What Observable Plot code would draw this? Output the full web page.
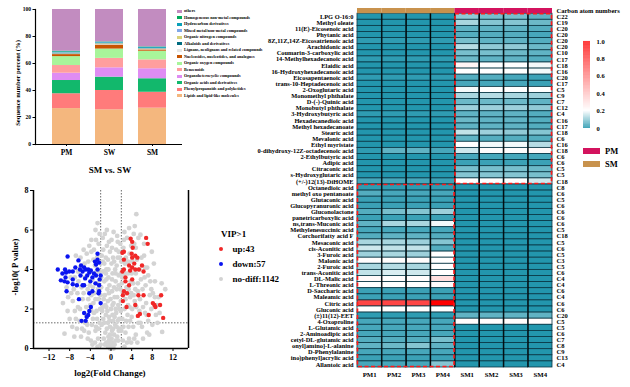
<!DOCTYPE html>
<html><head><meta charset="utf-8">
<script src="https://cdn.jsdelivr.net/npm/d3@7"></script>
<script src="https://cdn.jsdelivr.net/npm/@observablehq/plot@0.6"></script>
<style>
body{margin:0;background:#fff;}
#root{position:relative;width:630px;height:387px;overflow:hidden;background:#fff;font-family:"Liberation Serif",serif;font-weight:bold;color:#000;}
.t{position:absolute;white-space:nowrap;line-height:1;}
svg{position:absolute;}
</style></head><body><div id="root"></div>
<script>
// ---------- Stacked bar chart data (bottom -> top) ----------
const barSamples = ["PM", "SW", "SM"];
const barClasses = ["Lipids and lipid-like molecules", "Phenylpropanoids and polyketides", "Organic acids and derivatives",
  "Organoheterocyclic compounds", "Benzenoids", "Organic oxygen compounds", "Nucleosides, nucleotides, and analogues",
  "Lignans, neolignans and related compounds", "Alkaloids and derivatives", "Organic nitrogen compounds",
  "Mixed metal/non-metal compounds", "Hydrocarbon derivatives", "Homogeneous non-metal compounds", "others"];
const barColors = ["#f4b77e", "#ff7b7b", "#12b86c", "#df8cf3", "#ff9e9e", "#a8f59a", "#c85400",
  "#e6e6e6", "#006b80", "#d8d27a", "#80a8e8", "#0aa0b8", "#00a85a", "#c28cc0"];
const pmPercent = [26.6, 11.0, 9.8, 5.4, 5.7, 6.6, 1.5, 0.4, 0.3, 0.3, 0.3, 0.7, 0.5, 30.9];
const swPercent = [25.7, 14.3, 9.9, 6.9, 7.0, 6.9, 3.0, 0.5, 0.3, 0.3, 0.3, 0.6, 0.3, 24.0];
const smPercent = [26.9, 11.8, 10.0, 7.4, 6.6, 6.4, 1.0, 0.4, 0.3, 0.2, 0.2, 0.8, 0.3, 27.7];

// ---------- Heatmap data ----------
const heatSamples = ["PM1", "PM2", "PM3", "PM4", "SM1", "SM2", "SM3", "SM4"];
const compounds = ["LPG O-16:0", "Methyl oleate", "11(E)-Eicosenoic acid", "Phytanic acid", "8Z,11Z,14Z-Eicosatrienoic acid",
  "Arachidonic acid", "Coumarin-3-carboxylic acid", "14-Methylhexadecanoic acid", "Elaidic acid", "16-Hydroxyhexadecanoic acid",
  "Eicosapentaenoic acid", "trans-10-Heptadecenoic acid", "2-Oxoglutaric acid", "Monomethyl phthalate", "D-(-)-Quinic acid",
  "Monobutyl phthalate", "3-Hydroxybutyric acid", "Hexadecanedioic acid", "Methyl hexadecanoate", "Stearic acid",
  "Mevalonic acid", "Ethyl myristate", "0-dihydroxy-12Z-octadecenoic acid", "2-Ethylbutyric acid", "Adipic acid",
  "Citraconic acid", "s-Hydroxyglutaric acid", "(+/-)12(13)-DiHOME",
  "Octanedioic acid", "methyl oxo pentanoate", "Glutaconic acid", "Glucopyranuronic acid", "Gluconolactone",
  "panetricarboxylic acid", "ns,trans-Muconic acid", "Methylenesuccinic acid", "Corchorifatty acid F", "Mesaconic acid",
  "cis-Aconitic acid", "3-Furoic acid", "Malonic acid", "2-Furoic acid", "trans-Aconitic acid", "DL-Malic acid",
  "L-Threonic acid", "D-Saccharic acid", "Maleamic acid", "Citric acid", "Gluconic acid", "(±)11(12)-EET",
  "4-Oxoproline", "L-Glutamic acid", "2-Aminoadipic acid", "cetyl-DL-glutamic acid", "onyl]amino]-L-alanine",
  "D-Phenylalanine", "ino)phenyl]acrylic acid", "Allantoic acid"];
const carbonNumbers = ["C22", "C19", "C20", "C20", "C20", "C20", "C10", "C17", "C18", "C16", "C20", "C17", "C5", "C9",
  "C7", "C12", "C4", "C16", "C17", "C18", "C6", "C16", "C18", "C6", "C6", "C5", "C5", "C18",
  "C8", "C6", "C5", "C6", "C6", "C6", "C6", "C5", "C18", "C5", "C6", "C5", "C3", "C5", "C6", "C4", "C4", "C6", "C4",
  "C6", "C6", "C20", "C5", "C5", "C6", "C7", "C8", "C9", "C13", "C4"];
const topGroupSize = 28;
const heatPM = [
  [0.02,0.02,0.02,0.02],[0.02,0.02,0.02,0.02],[0.02,0.02,0.02,0.02],[0.02,0.02,0.02,0.02],[0.03,0.03,0.03,0.03],
  [0.02,0.02,0.02,0.02],[0.02,0.02,0.02,0.02],[0.03,0.03,0.03,0.03],[0.02,0.02,0.02,0.02],[0.02,0.02,0.02,0.02],
  [0.03,0.03,0.03,0.03],[0.02,0.02,0.02,0.02],[0.02,0.02,0.02,0.02],[0.02,0.02,0.02,0.02],[0.02,0.02,0.02,0.02],
  [0.02,0.02,0.02,0.02],[0.03,0.03,0.03,0.03],[0.02,0.02,0.02,0.02],[0.02,0.02,0.02,0.02],[0.02,0.02,0.02,0.02],
  [0.02,0.02,0.02,0.02],[0.02,0.02,0.02,0.02],[0.03,0.07,0.07,0.05],[0.02,0.02,0.02,0.02],[0.02,0.02,0.02,0.02],
  [0.02,0.02,0.02,0.02],[0.02,0.02,0.02,0.02],[0.05,0.05,0.05,0.04],
  [0.03,0.03,0.03,0.03],[0.06,0.05,0.05,0.05],[0.04,0.04,0.04,0.04],[0.04,0.04,0.04,0.04],[0.06,0.09,0.10,0.12],
  [0.04,0.04,0.04,0.04],[0.07,0.13,0.13,0.19],[0.05,0.05,0.05,0.05],[0.06,0.07,0.07,0.06],[0.13,0.13,0.12,0.10],
  [0.16,0.15,0.15,0.06],[0.12,0.13,0.12,0.20],[0.21,0.21,0.21,0.20],[0.13,0.14,0.13,0.20],[0.15,0.17,0.16,0.20],
  [0.22,0.21,0.21,0.30],[0.20,0.20,0.20,0.21],[0.04,0.04,0.04,0.04],[0.04,0.04,0.04,0.04],[0.78,0.78,0.78,1.00],
  [0.20,0.20,0.20,0.20],[0.03,0.03,0.03,0.03],[0.05,0.05,0.05,0.05],[0.05,0.05,0.05,0.05],[0.05,0.05,0.05,0.05],
  [0.06,0.06,0.06,0.09],[0.07,0.08,0.10,0.07],[0.05,0.05,0.05,0.05],[0.04,0.04,0.04,0.04],[0.05,0.05,0.05,0.10]];
const heatSM = [
  [0.11,0.09,0.09,0.07],[0.13,0.10,0.10,0.08],[0.07,0.07,0.07,0.06],[0.06,0.06,0.06,0.05],[0.09,0.07,0.07,0.06],
  [0.14,0.11,0.11,0.08],[0.09,0.09,0.08,0.07],[0.08,0.07,0.07,0.06],[0.23,0.20,0.20,0.19],[0.20,0.20,0.20,0.19],
  [0.06,0.06,0.05,0.04],[0.05,0.05,0.05,0.04],[0.19,0.20,0.20,0.20],[0.13,0.14,0.13,0.12],[0.08,0.08,0.08,0.07],
  [0.12,0.12,0.12,0.11],[0.07,0.07,0.07,0.06],[0.08,0.07,0.07,0.06],[0.07,0.07,0.07,0.06],[0.15,0.12,0.11,0.10],
  [0.07,0.06,0.06,0.06],[0.20,0.19,0.19,0.14],[0.16,0.21,0.21,0.22],[0.05,0.05,0.05,0.05],[0.04,0.04,0.04,0.04],
  [0.09,0.09,0.09,0.08],[0.10,0.10,0.10,0.09],[0.20,0.20,0.20,0.16],
  [0.02,0.02,0.02,0.02],[0.02,0.02,0.02,0.02],[0.02,0.02,0.02,0.02],[0.02,0.02,0.02,0.02],[0.02,0.02,0.02,0.02],
  [0.02,0.02,0.02,0.02],[0.02,0.02,0.02,0.02],[0.02,0.02,0.02,0.02],[0.02,0.02,0.02,0.02],[0.02,0.02,0.02,0.02],
  [0.02,0.02,0.02,0.02],[0.02,0.02,0.02,0.02],[0.02,0.02,0.02,0.02],[0.02,0.02,0.02,0.02],[0.02,0.02,0.02,0.02],
  [0.02,0.02,0.02,0.02],[0.02,0.02,0.02,0.02],[0.02,0.02,0.02,0.02],[0.02,0.02,0.02,0.02],[0.02,0.02,0.02,0.02],
  [0.02,0.02,0.02,0.02],[0.07,0.07,0.07,0.07],[0.21,0.21,0.21,0.21],[0.02,0.02,0.02,0.02],[0.02,0.02,0.02,0.02],
  [0.02,0.02,0.02,0.02],[0.02,0.02,0.02,0.02],[0.02,0.02,0.02,0.02],[0.02,0.02,0.02,0.02],[0.02,0.02,0.02,0.02]];
const colorTicks = [0, 0.2, 0.4, 0.6, 0.8, 1.0];

// ---------- Volcano data [log2FC, -log10 P] ----------
const upPoints = [[3.8,5.56],[4.1,5.4],[4.2,5.1],[4.0,4.8],[4.1,4.6],[2.5,4.9],[2.5,4.5],[4.7,4.7],[5.1,4.6],[6.8,5.6],
  [7.1,5.3],[3.5,4.2],[4.1,4.1],[4.7,4.0],[6.0,4.2],[6.3,3.9],[2.5,4.0],[2.2,3.9],[3.7,3.95],[5.4,4.0],[2.8,3.6],
  [4.1,3.5],[2.8,3.4],[2.5,2.9],[3.5,3.2],[2.3,2.7],[3.1,2.8],[5.3,2.7],[6.3,2.7],[2.3,2.4],[3.0,2.1],[8.1,2.3],
  [8.4,2.2],[8.6,2.1],[9.7,2.7],[9.5,2.2],[7.3,1.7],[5.2,1.65],[5.6,1.75],[10.1,1.55],[4.7,2.2],[2.2,4.85],[4.5,4.3]];
const downPoints = [[-10.3,4.0],[-8.4,4.66],[-6.3,4.46],[-8.9,4.0],[-8.7,3.85],[-9.0,3.4],[-8.8,3.6],[-8.4,3.35],
  [-9.7,3.45],[-9.4,3.8],[-7.4,3.9],[-7.4,3.5],[-7.4,3.25],[-5.8,4.2],[-5.2,4.1],[-4.9,4.0],[-5.5,3.9],[-4.4,4.0],
  [-4.2,3.85],[-3.9,3.95],[-2.6,4.8],[-2.6,4.5],[-2.9,4.25],[-2.3,4.35],[-2.6,4.0],[-2.9,3.7],[-2.0,3.7],[-5.5,3.2],
  [-5.2,3.2],[-6.2,2.5],[-4.2,2.8],[-3.6,2.9],[-2.3,2.9],[-2.3,3.2],[-2.0,2.3],[-3.9,2.1],[-4.2,1.9],[-5.2,1.8],
  [-4.7,1.6],[-4.4,1.7],[-5.7,1.4],[-4.9,1.4],[-3.3,3.8],[-3.6,3.6],[-4.6,3.7],[-5.0,3.55],[-6.0,4.0],[-6.6,3.2],
  [-8.1,3.9],[-3.1,4.4],[-2.2,3.5],[-4.0,3.4],[-3.0,3.3],[-5.9,3.7],[-8.6,2.9],[-6.9,4.1],[-2.4,2.8]];
const noDiffPoints = [[0,0.1],[0.3,0.3],[-0.3,0.2],[0.1,0.5],[-0.5,0.6],[0.6,0.7],[0.2,0.9],[-0.2,1.1],[0.8,1.2],
  [-0.8,1.0],[0.4,1.4],[-0.4,1.6],[1.0,1.8],[-1.0,1.7],[0.0,2.0],[0.5,2.3],[-0.6,2.4],[1.2,2.6],[-1.2,2.7],[0.2,2.9],
  [-0.3,3.2],[0.9,3.4],[-0.9,3.5],[0.3,3.8],[-0.5,4.0],[1.1,4.2],[-1.3,4.3],[0.4,4.6],[-0.2,4.9],[1.0,5.0],[-0.8,5.2],
  [-0.8,6.0],[0.1,5.5],[-1.6,5.6],[1.4,0.4],[-1.4,0.5],[1.7,1.0],[-1.8,1.2],[1.6,2.0],[-1.6,2.1],[1.8,3.0],[-1.9,3.1],
  [1.5,3.7],[-1.5,3.9],[1.7,4.6],[-1.8,4.7],
  [-2.5,0.5],[-3.0,0.9],[-2.2,1.3],[-3.5,1.5],[-2.8,1.9],[-4.0,2.2],[-2.4,2.5],[-3.2,2.8],[-4.5,3.0],[-2.6,3.3],
  [-3.6,3.5],[-5.0,3.6],[-2.3,3.9],[-3.1,4.2],[-4.4,4.4],[-2.7,4.6],[-3.8,4.9],[-4.2,5.2],[-2.6,6.35],[-2.9,5.5],
  [-5.3,5.0],[-6.0,4.1],[-5.5,2.5],[-6.5,2.8],[-7.0,1.9],[-4.8,1.7],[-6.1,1.4],[-5.2,0.9],[-3.9,0.4],[-7.5,1.1],
  [-8.3,2.6],[-7.8,3.6],[-6.8,4.7],[-9.0,0.75],[-5.8,0.6],[-4.6,1.2],[-6.4,2.1],[-7.2,3.0],[-3.4,2.3],[-2.9,1.1],
  [2.3,0.4],[2.8,0.8],[3.4,1.1],[2.2,1.5],[4.0,1.6],[2.6,2.0],[3.6,2.1],[4.6,2.4],[2.4,2.8],[5.2,2.9],[3.0,3.1],
  [4.3,3.3],[5.8,3.5],[2.2,3.6],[3.3,3.8],[4.8,3.8],[6.5,3.6],[2.7,4.3],[5.0,4.5],[3.6,4.8],[2.4,5.1],[4.5,5.3],
  [5.7,5.76],[4.9,6.8],[3.1,5.6],[6.4,4.7],[7.0,4.1],[7.6,3.4],[8.1,2.8],[6.8,2.3],[5.5,1.9],[7.2,1.4],[6.0,1.1],
  [4.8,0.7],[8.7,1.7],[9.9,0.84],[9.2,2.6],[7.8,2.0],[6.2,0.5],[3.9,0.3],[8.5,3.4],[5.3,1.3],[3.7,2.6],[6.1,3.0],
  [2.9,4.6],[0.7,0.2],[-0.9,0.3],[1.2,0.6],[-1.1,0.8],[0.3,1.7],[-0.1,2.5],[0.6,3.1],[-0.7,3.0],[0.1,4.3],[0.8,4.0],
  [-1.1,2.2],[1.3,1.4],[-0.4,0.4],[0.5,0.0],[-0.2,0.0],
  [-2.0,0.2],[-1.5,1.5],[-2.1,2.0],[-2.5,3.0],[-2.0,4.3],[-3.3,5.0],[-1.2,5.8],[-2.2,5.8],[-3.6,0.2],[-4.3,0.8],
  [-5.0,1.3],[-3.8,1.9],[-5.7,3.1],[-4.0,3.9],[-5.1,4.3],[-6.3,3.4],[-7.4,2.4],[-6.6,1.0],[-8.0,1.5],[-8.6,3.1],
  [2.0,0.9],[1.9,2.4],[2.1,3.3],[2.0,4.4],[1.8,5.3],[2.6,5.9],[3.5,0.5],[4.3,1.1],[4.1,2.0],[5.6,2.5],[4.7,3.0],
  [3.8,3.4],[5.5,4.0],[4.1,4.4],[6.7,3.2],[7.5,2.7],[8.0,1.2],[9.4,1.8],[6.6,1.8],[5.1,0.3],[7.0,0.8],[8.9,2.2],
  [3.2,1.7],[4.4,5.8],[1.3,5.4],[0.5,5.9],[-0.4,5.4],[1.5,4.9],[-1.0,4.6],[0.9,2.0],[-0.6,1.3],[1.5,3.2],[-1.3,3.4],
  [0.2,3.5],[-0.9,4.0],
  [-0.2,0.7],[0.4,1.0],[-0.7,1.9],[0.7,2.6],[-0.4,2.8],[1.1,3.0],[-1.0,3.8],[0.6,4.4],[-0.6,4.5],[0.2,5.1],[1.2,5.7],
  [-1.5,5.0],[1.4,2.2],[-1.4,2.5],[1.6,1.5],[-1.7,1.9],[1.9,3.8],[-1.9,3.6],[1.9,1.9],[-2.0,2.7],
  [-2.4,1.0],[-2.7,1.5],[-3.3,1.8],[-3.0,2.5],[-3.8,2.7],[-4.4,2.5],[-3.5,3.1],[-4.1,3.2],[-2.8,3.9],[-3.4,4.5],
  [-2.4,5.3],[-3.0,6.0],[-4.8,2.1],[-5.3,2.8],[-6.0,2.0],[-6.8,1.5],[-5.6,1.0],[-4.5,0.5],[-3.1,0.3],[-2.6,0.1],
  [-7.7,2.8],[-6.4,3.9],[-7.0,3.6],[-5.9,4.6],[-4.7,4.8],[-3.8,5.5],[-8.4,1.9],[-9.3,2.3],[-7.1,0.6],[-3.7,1.2],
  [2.4,1.1],[2.9,1.4],[3.3,2.2],[2.8,2.5],[3.9,2.8],[4.4,2.7],[3.4,3.0],[4.0,3.8],[2.6,3.8],[3.3,4.4],[2.5,5.5],
  [3.5,6.1],[4.9,2.1],[5.2,3.3],[6.2,2.1],[6.9,1.7],[5.7,1.3],[4.5,0.5],[3.1,0.3],[2.6,0.1],[7.8,3.0],[6.6,4.1],
  [7.2,3.7],[5.9,4.6],[4.8,5.1],[3.9,5.2],[8.5,2.6],[9.0,1.3],[7.4,0.7],[3.7,1.4],[8.3,4.3],[7.9,4.9],[6.4,5.3],
  [5.3,5.6],[4.6,6.2],[10.5,3.0],[9.8,3.3],
  [-0.1,0.3],[0.2,0.1],[-0.6,0.1],[0.9,0.4],[-1.2,0.2],[1.5,0.9],[-1.3,1.3],[1.1,1.1],[-0.3,1.4],[0.7,1.6],
  [-0.9,2.1],[0.3,2.2],[-0.5,3.6],[0.9,3.8],[-1.6,4.4],[1.3,4.6]];
const volcanoLegend = [["up:43", "#f02828"], ["down:57", "#0a14f0"], ["no-diff:1142", "#d3d3d3"]];
const groupLegend = [["PM", "#d3135e"], ["SM", "#c8924d"]];

// ---------- helpers ----------
const root = document.getElementById("root");
const FONT = "Liberation Serif";
function place(svg, left, top) { svg.style.left = left + "px"; svg.style.top = top + "px"; root.appendChild(svg); }
function text(str, x, y, size, opts = {}) {
  const d = document.createElement("div");
  d.className = "t"; d.textContent = str;
  d.style.fontSize = size + "px";
  d.style.left = x + "px"; d.style.top = y + "px";
  d.style.transform = (opts.anchor === "start" ? "translate(0,-50%)" : "translate(-50%,-50%)") + (opts.rotate ? " rotate(-90deg)" : "");
  root.appendChild(d); return d;
}
const baseStyle = {fontFamily: FONT, fontWeight: "bold", background: "transparent", overflow: "visible", color: "#000"};

// ---------- Heatmap ----------
const heatColor = {type: "linear", domain: [0, 0.2, 1], range: ["#0a8aa4", "#ffffff", "#ff0000"], interpolate: "rgb"};
const heatCells = [];
compounds.forEach((c, i) => heatSamples.forEach((s, j) => heatCells.push({row: i, col: j, value: j < 4 ? heatPM[i][j] : heatSM[i][j - 4]})));
const groupCols = heatSamples.map((s, j) => ({col: j, pm: j < 4}));
const colBoundaries = heatSamples.slice(1).map((s, j) => j + 1);
const blocks = [
  {x1: 4, x2: 8, y1: 0, y2: topGroupSize},
  {x1: 0, x2: 4, y1: topGroupSize, y2: compounds.length}
];
const heat = Plot.plot({
  width: 400, height: 387, marginLeft: 127, marginRight: 78, marginTop: 8, marginBottom: 20,
  style: baseStyle,
  x: {domain: [0, heatSamples.length], axis: null},
  y: {domain: [-0.85, compounds.length], reverse: true, axis: null},
  color: heatColor,
  marks: [
    Plot.rect(heatCells, {x1: "col", x2: d => d.col + 1, y1: "row", y2: d => d.row + 1, fill: "value", stroke: "#083644", strokeWidth: 0.8}),
    Plot.ruleX(colBoundaries, {y1: 0, y2: compounds.length, stroke: "#000", strokeWidth: 1.1}),
    Plot.rect(groupCols.filter(d => d.pm), {x1: "col", x2: d => d.col + 1, y1: -0.85, y2: 0, fill: "#c8924d"}),
    Plot.rect(groupCols.filter(d => !d.pm), {x1: "col", x2: d => d.col + 1, y1: -0.85, y2: 0, fill: "#d3135e"}),
    Plot.rect(blocks, {x1: "x1", x2: "x2", y1: "y1", y2: "y2", fill: "none", stroke: "#ff1a1a", strokeWidth: 1.6, strokeDasharray: "4,2.5", inset: 0.5}),
    Plot.axisY({anchor: "left", ticks: compounds.map((c, i) => i + 0.5), tickFormat: d => compounds[Math.floor(d)],
      tickSize: 0, tickPadding: 4, fontSize: 6.4, fontWeight: "bold", label: null}),
    Plot.axisY({anchor: "right", ticks: [-0.425, ...compounds.map((c, i) => i + 0.5)],
      tickFormat: d => d < 0 ? "Carbon atom numbers" : carbonNumbers[Math.floor(d)],
      tickSize: 0, tickPadding: 4, fontSize: 6.5, fontWeight: "bold", label: null}),
    Plot.axisX({ticks: heatSamples.map((s, j) => j + 0.5), tickFormat: d => heatSamples[Math.floor(d)],
      tickSize: 0, tickPadding: 5, fontSize: 6.8, fontWeight: "bold", label: null})
  ]
});
place(heat, 230, 0);

// color ramp legend
const rampStops = d3.range(0, 1, 0.005);
const ramp = Plot.plot({
  width: 55, height: 100, marginLeft: 8, marginRight: 40, marginTop: 6, marginBottom: 7,
  style: baseStyle,
  x: {axis: null},
  y: {domain: [0, 1], axis: null},
  color: heatColor,
  marks: [
    Plot.rect(rampStops, {y1: d => d, y2: d => d + 0.0055, fill: d => d}),
    Plot.axisY({anchor: "right", ticks: colorTicks, tickFormat: d => d === 0 ? "0" : d.toFixed(1), tickSize: 0, tickPadding: 6, fontSize: 6.5, fontWeight: "bold", label: null})
  ]
});
place(ramp, 575, 35);

groupLegend.forEach(([name, col], k) => {
  const sw = document.createElement("div");
  sw.style.cssText = `position:absolute;left:583px;top:${148 + k * 13}px;width:17px;height:6px;background:${col}`;
  root.appendChild(sw);
  text(name, 605, 151 + k * 13, 8.5, {anchor: "start"});
});

// ---------- Stacked bar chart ----------
const barData = [];
const percents = [pmPercent, swPercent, smPercent];
barSamples.forEach((s, si) => barClasses.forEach((c, ci) => barData.push({sample: s, cls: c, value: percents[si][ci]})));
const bar = Plot.plot({
  width: 215, height: 165, marginLeft: 35, marginRight: 33, marginTop: 9, marginBottom: 21,
  style: baseStyle,
  x: {domain: barSamples, paddingInner: 0.35, paddingOuter: 0.35, axis: null},
  y: {domain: [0, 100], axis: null},
  color: {domain: barClasses, range: barColors},
  marks: [
    Plot.barY(barData, {x: "sample", y: "value", fill: "cls", order: barClasses}),
    Plot.ruleY([0], {strokeWidth: 1.2}),
    Plot.frame({anchor: "left", strokeWidth: 1.2}),
    Plot.axisY({ticks: [0, 20, 40, 60, 80, 100], tickSize: 2.5, tickPadding: 2, fontSize: 5.5, fontWeight: "bold", label: null}),
    Plot.axisX({tickSize: 2, tickPadding: 3, fontSize: 7.5, fontWeight: "bold", label: null})
  ]
});
place(bar, 0, 0);
text("Sequence number percent (%)", 18, 83, 6.6, {rotate: true});
// bar legend (top -> bottom)
barClasses.slice().reverse().forEach((c, k) => {
  const col = barColors[barClasses.length - 1 - k];
  const y = 11 + k * 6.5;
  const sw = document.createElement("div");
  sw.style.cssText = `position:absolute;left:177px;top:${y - 1.5}px;width:5px;height:3px;background:${col}`;
  root.appendChild(sw);
  text(c, 184, y, 4.2, {anchor: "start"});
});

// ---------- Volcano ----------
text("SM vs. SW", 110, 170, 9);
const volcano = Plot.plot({
  width: 215, height: 207, marginLeft: 33, marginRight: 27, marginTop: 10, marginBottom: 39,
  style: baseStyle,
  x: {domain: [-15, 15], axis: null},
  y: {domain: [0, 8], axis: null},
  marks: [
    Plot.ruleY([1.3], {stroke: "#444", strokeWidth: 0.8, strokeDasharray: "1.5,1.5"}),
    Plot.ruleX([-2, 2], {stroke: "#444", strokeWidth: 0.8, strokeDasharray: "1.5,1.5"}),
    Plot.dot(noDiffPoints, {x: d => d[0], y: d => d[1], r: 2.4, fill: "#d3d3d3"}),
    Plot.dot(downPoints, {x: d => d[0], y: d => d[1], r: 2.2, fill: "#0a14f0"}),
    Plot.dot(upPoints, {x: d => d[0], y: d => d[1], r: 2.2, fill: "#f02828"}),
    Plot.ruleX([-15, 15], {strokeWidth: 1.5}),
    Plot.ruleY([0], {strokeWidth: 1.5}),
    Plot.axisY({ticks: [0, 2, 4, 6, 8], tickSize: 3, tickPadding: 2, fontSize: 8, fontWeight: "bold", label: null}),
    Plot.axisX({ticks: [-12, -8, -4, 0, 4, 8, 12], tickSize: 3, tickPadding: 3, fontSize: 8, fontWeight: "bold", label: null})
  ]
});
place(volcano, 0, 180);
text("-log10( P value)", 15, 267, 8.6, {rotate: true});
text("log2(Fold Change)", 110, 373, 9);

// volcano legend
text("VIP>1", 221, 234, 9, {anchor: "start"});
volcanoLegend.forEach(([label, col], k) => {
  const y = 249 + k * 15;
  const dot = document.createElement("div");
  dot.style.cssText = `position:absolute;left:${221 - 2}px;top:${y - 2}px;width:4px;height:4px;border-radius:50%;background:${col}`;
  root.appendChild(dot);
  text(label, 232.5, y, 9, {anchor: "start"});
});
</script></body></html>
